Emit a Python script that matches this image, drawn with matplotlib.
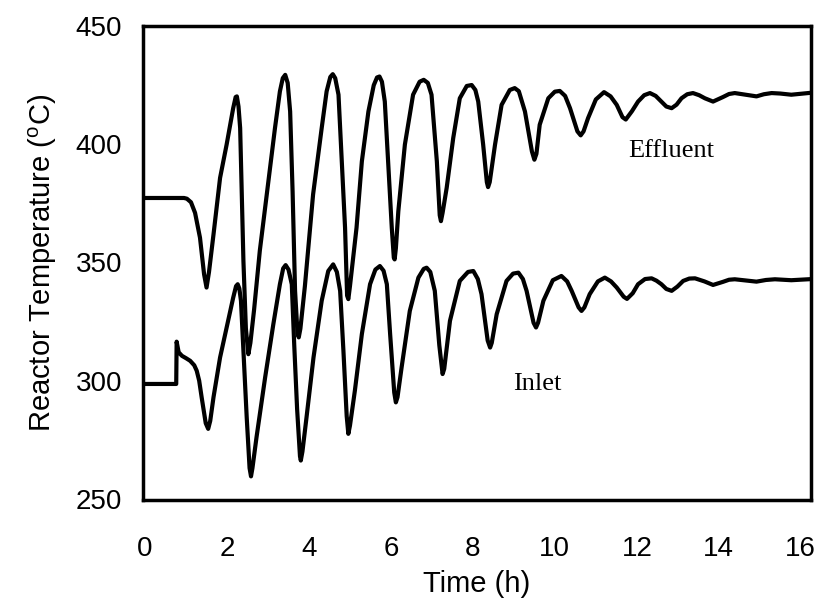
import matplotlib
matplotlib.use("Agg")
from matplotlib import pyplot as plt

# effluent temperature
eff_t = [0.00, 0.95, 1.02, 1.12, 1.22, 1.34, 1.44, 1.50, 1.56, 1.67, 1.83, 1.99, 2.15, 2.21,
         2.24, 2.28, 2.32, 2.36, 2.40, 2.46, 2.52, 2.57, 2.66, 2.80, 2.97, 3.17, 3.29, 3.36,
         3.42, 3.48, 3.54, 3.60, 3.66, 3.72, 3.75, 3.79, 3.90, 4.10, 4.31, 4.43, 4.52, 4.58,
         4.64, 4.72, 4.80, 4.88, 4.93, 4.96, 5.00, 5.16, 5.29, 5.45, 5.58, 5.66, 5.72, 5.78,
         5.85, 5.93, 6.02, 6.07, 6.09, 6.12, 6.18, 6.34, 6.54, 6.70, 6.80, 6.90, 6.99, 7.12,
         7.19, 7.22, 7.26, 7.36, 7.52, 7.68, 7.85, 7.97, 8.06, 8.13, 8.25, 8.34, 8.37, 8.41,
         8.54, 8.70, 8.90, 9.02, 9.12, 9.27, 9.44, 9.50, 9.55, 9.63, 9.84, 10.00, 10.12, 10.25,
         10.37, 10.55, 10.63, 10.70, 10.81, 11.00, 11.20, 11.36, 11.51, 11.65, 11.73, 11.88,
         12.03, 12.18, 12.32, 12.46, 12.60, 12.72, 12.85, 12.97, 13.09, 13.23, 13.37, 13.52,
         13.66, 13.86, 14.10, 14.25, 14.39, 14.65, 14.92, 15.10, 15.29, 15.50, 15.77, 16.00,
         16.18]
eff_T = [377.3, 377.3, 377.0, 375.5, 371.0, 360.5, 345.0, 339.4, 346.0, 361.9, 385.8, 399.9,
         415.3, 420.0, 420.3, 416.0, 406.9, 379.0, 350.6, 322.0, 311.2, 316.0, 330.0, 355.0,
         378.8, 406.9, 422.4, 428.0, 429.4, 426.0, 413.9, 380.0, 338.0, 320.0, 318.3, 322.0,
         340.0, 378.8, 406.9, 422.4, 428.5, 429.7, 428.0, 421.0, 392.8, 364.7, 336.0, 334.5,
         340.0, 364.7, 392.8, 413.9, 425.0, 428.3, 428.7, 426.5, 418.1, 392.8, 364.7, 352.0,
         351.3, 356.0, 371.7, 399.9, 421.0, 426.5, 427.3, 426.0, 421.0, 392.8, 370.0, 367.5,
         371.0, 381.6, 402.7, 419.5, 424.7, 425.1, 423.0, 418.1, 399.9, 384.0, 381.9, 384.0,
         399.9, 416.7, 423.0, 423.8, 422.5, 413.9, 397.0, 393.5, 396.0, 408.3, 419.5, 422.3,
         422.6, 420.5, 415.3, 405.5, 403.8, 405.5, 411.1, 419.0, 422.1, 420.3, 416.7, 411.5,
         410.5, 414.0, 418.1, 420.8, 421.7, 420.5, 418.1, 416.0, 415.3, 416.8, 419.5, 421.2,
         421.7, 420.8, 419.5, 418.1, 420.0, 421.3, 421.7, 421.0, 420.3, 421.2, 421.7, 421.5,
         421.0, 421.4, 421.7]

# inlet temperature
inl_t = [0.00, 0.76, 0.77, 0.82, 0.90, 1.00, 1.10, 1.20, 1.26, 1.32, 1.38, 1.48, 1.54, 1.59,
         1.67, 1.83, 1.99, 2.15, 2.22, 2.26, 2.30, 2.34, 2.40, 2.48, 2.55, 2.585, 2.62, 2.72,
         2.93, 3.13, 3.29, 3.37, 3.43, 3.50, 3.58, 3.64, 3.71, 3.78, 3.80, 3.84, 3.94, 4.11,
         4.31, 4.47, 4.59, 4.68, 4.76, 4.84, 4.92, 4.96, 5.00, 5.12, 5.29, 5.49, 5.62, 5.73,
         5.82, 5.90, 5.98, 6.08, 6.12, 6.16, 6.26, 6.46, 6.67, 6.80, 6.87, 6.96, 7.07, 7.18,
         7.26, 7.30, 7.44, 7.68, 7.88, 8.01, 8.12, 8.21, 8.36, 8.42, 8.46, 8.58, 8.82, 8.98,
         9.11, 9.22, 9.31, 9.48, 9.54, 9.59, 9.72, 9.95, 10.16, 10.30, 10.41, 10.58, 10.65,
         10.72, 10.85, 11.05, 11.22, 11.37, 11.51, 11.68, 11.76, 11.90, 12.03, 12.20, 12.36,
         12.48, 12.60, 12.72, 12.85, 12.99, 13.13, 13.28, 13.42, 13.65, 13.86, 14.10, 14.25,
         14.39, 14.65, 14.92, 15.15, 15.37, 15.77, 16.18]
inl_T = [298.6, 298.6, 316.5, 312.0, 310.5, 309.5, 308.4, 306.5, 304.2, 300.0, 293.0, 282.0,
         279.6, 283.0, 293.0, 309.8, 322.5, 335.1, 340.0, 340.8, 339.0, 333.8, 312.7, 284.5,
         263.0, 259.5, 263.0, 276.1, 301.4, 323.9, 340.8, 347.5, 348.9, 347.0, 340.8, 315.0,
         288.0, 268.0, 266.2, 270.0, 284.5, 309.8, 333.8, 346.4, 349.2, 346.0, 338.0, 312.7,
         285.0, 277.5, 281.0, 295.8, 319.7, 340.8, 347.0, 348.5, 346.5, 340.8, 319.7, 295.0,
         290.8, 293.0, 305.6, 329.5, 343.6, 347.3, 347.8, 346.0, 338.0, 315.0, 302.8, 305.0,
         325.3, 342.2, 346.0, 346.4, 343.0, 336.6, 317.0, 314.0, 316.0, 328.1, 342.2, 345.3,
         345.7, 343.0, 338.0, 324.5, 322.5, 324.5, 333.8, 342.5, 344.3, 342.0, 338.0, 331.0,
         329.5, 331.0, 336.6, 342.0, 343.6, 342.0, 339.4, 335.5, 334.6, 337.0, 340.8, 343.0,
         343.3, 342.3, 340.8, 338.8, 338.0, 339.8, 342.2, 343.2, 343.3, 342.0, 340.5, 341.8,
         342.7, 342.9, 342.4, 341.9, 342.6, 342.9, 342.5, 342.9]

x_ticks = [0, 2, 4, 6, 8, 10, 12, 14, 16]
y_ticks = [250, 300, 350, 400, 450]

plt.rcParams['font.family'] = ['Liberation Sans', 'DejaVu Sans']
plt.rcParams['mathtext.default'] = 'regular'

fig = plt.figure(figsize=(8.22, 6.09), dpi=100)
ax = fig.add_axes([0.174, 0.179, 0.8126, 0.778])

ax.plot(eff_t, eff_T, color='black', lw=3.0, solid_joinstyle='round')
ax.plot(inl_t, inl_T, color='black', lw=3.0, solid_joinstyle='round')

ax.set_xlim(-0.05, 16.25)
ax.set_ylim(249.5, 450)
ax.set_xticks(x_ticks)
ax.set_yticks(y_ticks)
ax.tick_params(axis='both', length=0, labelsize=20)
ax.tick_params(axis='x', pad=26)
ax.tick_params(axis='y', pad=15)

for s in ax.spines.values():
    s.set_linewidth(2.5)

ax.set_xlabel('Time (h)', fontsize=21, labelpad=6)
ax.set_ylabel('Reactor Temperature ($^{o}$C)', fontsize=21, labelpad=12)

ax.text(11.78, 397, 'Effluent', family='Liberation Serif', fontsize=19, ha='left', va='center')
ax.text(8.98, 298.7, 'Inlet', family='Liberation Serif', fontsize=19, ha='left', va='center')

fig.savefig('out.png', dpi=100)
